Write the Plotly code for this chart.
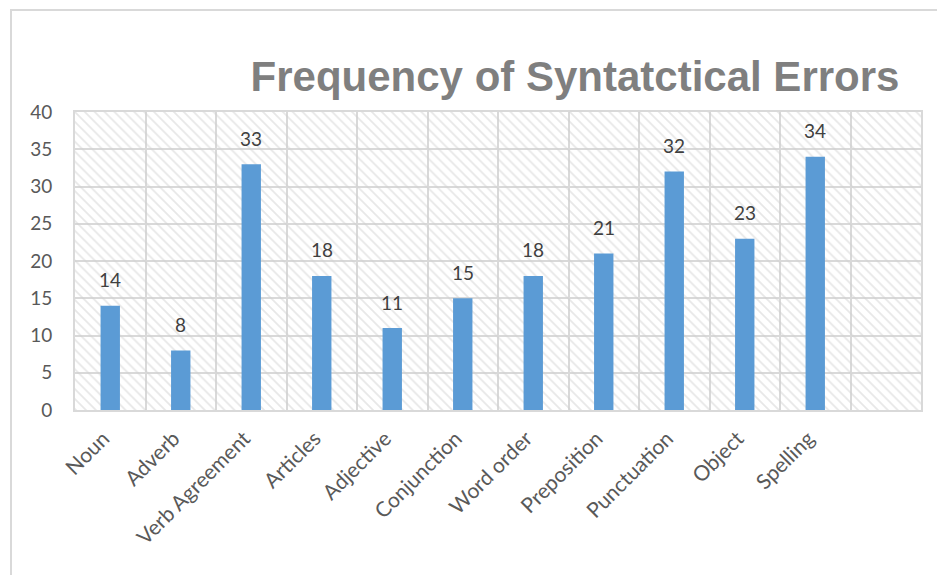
import plotly.graph_objects as go

# Error categories and counts
categories = ["Noun", "Adverb", "Verb Agreement", "Articles", "Adjective",
              "Conjunction", "Word order", "Preposition", "Punctuation",
              "Object", "Spelling"]
counts = [14, 8, 33, 18, 11, 15, 18, 21, 32, 23, 34]

y_max = 40
y_step = 5
n_slots = 12  # one empty slot after the last category

W, H = 937, 575
L, R, T, B = 75, 16, 112, 165

grid = "#d9d9d9"
bar_color = "#5b9bd5"
text_color = "#595959"

fig = go.Figure()

# Diagonal hatched background filling the plotting area
fig.add_trace(go.Bar(
    x=[(n_slots - 1) / 2], y=[y_max], width=[n_slots],
    marker=dict(color="rgba(0,0,0,0)", line=dict(width=0),
                pattern=dict(shape="\\", fgcolor="#d0d0d0", size=7,
                             solidity=0.25, fillmode="overlay")),
    hoverinfo="skip", showlegend=False,
))

# Data bars
xs = list(range(len(categories)))
fig.add_trace(go.Bar(
    x=xs, y=counts, width=0.275,
    marker=dict(color=bar_color, line=dict(width=0)),
    showlegend=False,
))

# Value labels above each bar
for x, v in zip(xs, counts):
    fig.add_annotation(x=x, y=v, text=str(v), showarrow=False,
                       yanchor="middle", yshift=26,
                       font=dict(family="Lato", size=19, color="#404040"))

# Outer frame (left and top edges)
pw, ph = W - L - R, H - T - B
def px_x(p):
    return (p - L) / pw
def px_y(p):
    return (H - B - p) / ph
fig.add_shape(type="path",
              path=f"M {px_x(11)},{px_y(H)} L {px_x(11)},{px_y(10)} L {px_x(W)},{px_y(10)}",
              xref="paper", yref="paper",
              line=dict(color=grid, width=2))

fig.update_layout(
    width=W, height=H,
    margin=dict(l=L, r=R, t=T, b=B),
    paper_bgcolor="white", plot_bgcolor="white",
    barmode="overlay",
    title=dict(text="<b>Frequency of Syntatctical Errors</b>",
               x=575 / W, xanchor="center", xref="container",
               y=1 - 76 / H, yanchor="middle", yref="container",
               font=dict(family="Liberation Sans", size=42, color="#7f7f7f")),
    xaxis=dict(
        range=[-0.5, n_slots - 0.5],
        tickmode="array", tickvals=xs, ticktext=categories,
        tickangle=-45, ticks="", showgrid=False,
        tickfont=dict(family="Lato", size=21, color=text_color),
        ticklabelstandoff=6, ticklabelshift=-7,
        showline=True, mirror=True, linecolor=grid, linewidth=2,
        zeroline=False, fixedrange=True,
        minor=dict(tick0=-0.5, dtick=1, showgrid=True,
                   gridcolor=grid, gridwidth=2, ticks=""),
    ),
    yaxis=dict(
        range=[0, y_max], dtick=y_step, tick0=0,
        showgrid=True, gridcolor=grid, gridwidth=2,
        tickfont=dict(family="Lato", size=19, color=text_color),
        ticklabelstandoff=17,
        showline=True, mirror=True, linecolor=grid, linewidth=2,
        zeroline=False, fixedrange=True,
    ),
)

fig.write_html("out.html")
